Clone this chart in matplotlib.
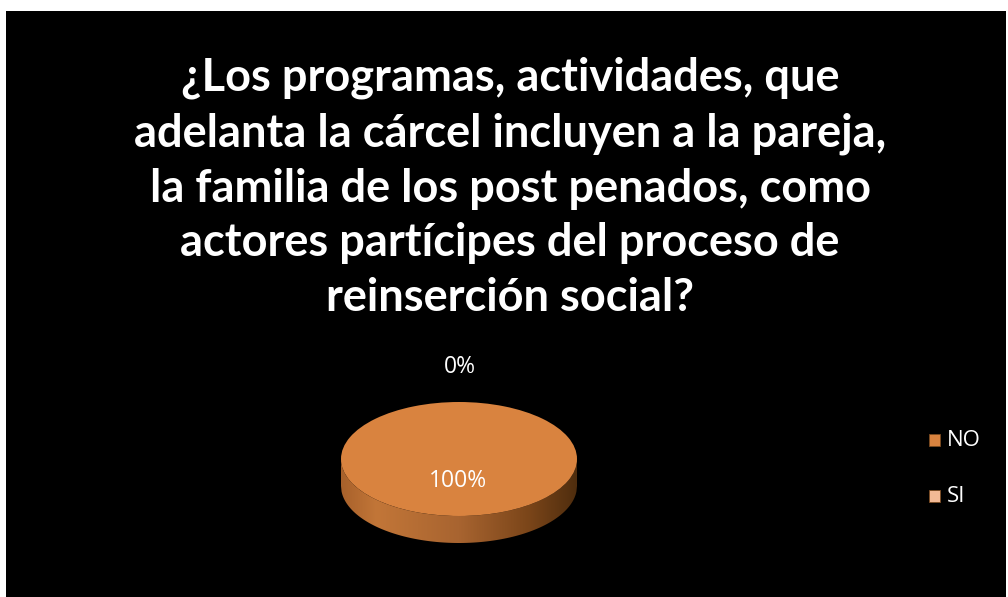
import numpy as np
import matplotlib.pyplot as plt
from matplotlib.patches import Polygon, Rectangle
from matplotlib.colors import LinearSegmentedColormap

categories = ["NO", "SI"]
values = [100, 0]
labels = ["100%", "0%"]
colors = ["#d9833f", "#f2b995"]
title = ("¿Los programas, actividades, que\n"
         "adelanta la cárcel incluyen a la pareja,\n"
         "la familia de los post penados, como\n"
         "actores partícipes del proceso de\n"
         "reinserción social?")

W, H = 1008, 597
fig = plt.figure(figsize=(W / 100, H / 100), dpi=100)
fig.patch.set_facecolor("white")

# black background panel
bg = fig.add_axes([6 / W, 0, (W - 8) / W, (H - 11) / H])
bg.set_facecolor("black")
bg.set_xticks([]); bg.set_yticks([])
for s in bg.spines.values():
    s.set_visible(False)

FONT = "Lato"
fig.text(510 / W, 1 - 188 / H, title, ha="center", va="center", color="white",
         fontsize=32.5, fontweight="bold", family=FONT, linespacing=1.38)

# pie axes: top ellipse region (y0..y1) plus side thickness below it
x0, x1 = 341, 577
y0, y1 = 402, 516
side_px = 27
ry = (y1 - y0) / 2
depth = side_px / ry  # side thickness in data units
ax = fig.add_axes([x0 / W, 1 - (y1 + side_px) / H, (x1 - x0) / W,
                   (y1 + side_px - y0) / H])
ax.set_facecolor("none")
ax.axis("off")

# side with gradient (image clipped to side shape)
cmap = LinearSegmentedColormap.from_list(
    "side", [(0.0, "#a8612b"), (0.15, "#c27638"), (0.5, "#a86430"),
             (0.8, "#7a4519"), (1.0, "#4f2d0e")])
t = np.linspace(-1, 1, 400)
lower = -np.sqrt(np.clip(1 - t ** 2, 0, None))
side_pts = np.vstack([np.column_stack([t, lower]),
                      np.column_stack([t[::-1], lower[::-1] - depth])])
side = Polygon(side_pts, closed=True, facecolor="none", edgecolor="none")
ax.add_patch(side)
grad = np.linspace(0, 1, 512)[None, :]
im = ax.imshow(grad, cmap=cmap, extent=[-1, 1, -1 - depth, 0], aspect="auto",
               zorder=0.5)
im.set_clip_path(side)

wedges, texts = ax.pie(values, colors=colors, startangle=90, counterclock=False,
                       radius=1.0, wedgeprops=dict(edgecolor="none"))
ax.set_aspect("auto")
ax.set_xlim(-1, 1)
ax.set_ylim(-1 - depth, 1)
for w in wedges:
    w.set_zorder(2)

# labels
fig.text(458 / W, 1 - 481 / H, labels[0], ha="center", va="center",
         color="white", fontsize=16.5, family="Open Sans")
fig.text(460 / W, 1 - 367 / H, labels[1], ha="center", va="center",
         color="white", fontsize=16.5, family="Open Sans")

# legend
for i, (cat, col, ly) in enumerate(zip(categories, colors, [440, 496])):
    fig.patches.append(Rectangle((929 / W, 1 - (ly + 6) / H), 11 / W, 12 / H,
                                 transform=fig.transFigure, facecolor=col,
                                 edgecolor="#7a4a20", linewidth=0.6))
    fig.text(947 / W, 1 - (ly + 1) / H, cat, ha="left", va="center", color="white",
             fontsize=16, family="Open Sans")

fig.savefig("out.png", dpi=100, facecolor=fig.get_facecolor())
